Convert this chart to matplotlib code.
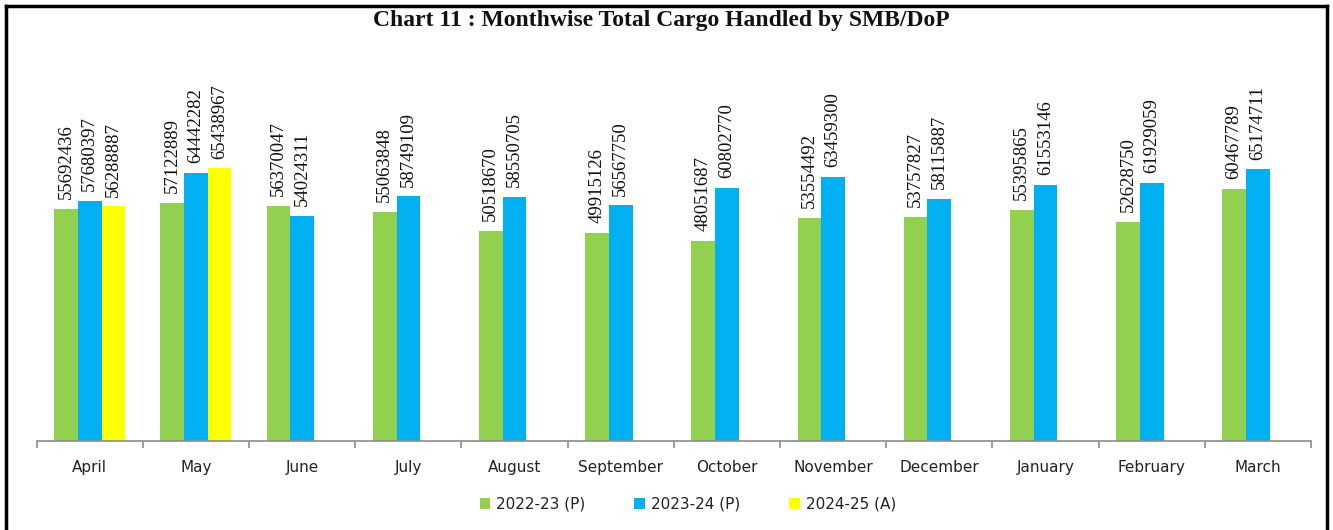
import numpy as np
import matplotlib
matplotlib.use('Agg')
import matplotlib.pyplot as plt
from matplotlib.lines import Line2D

months = ['April', 'May', 'June', 'July', 'August', 'September', 'October',
          'November', 'December', 'January', 'February', 'March']
fy2223 = [55692436, 57122889, 56370047, 55063848, 50518670, 49915126,
          48051687, 53554492, 53757827, 55395865, 52628750, 60467789]
fy2324 = [57680397, 64442282, 54024311, 58749109, 58550705, 56567750,
          60802770, 63459300, 58115887, 61553146, 61929059, 65174711]
fy2425 = [56288887, 65438967]
series_names = ['2022-23 (P)', '2023-24 (P)', '2024-25 (A)']
colors = ['#92D050', '#00B0F0', '#FFFF00']

fig = plt.figure(figsize=(13.33, 5.3), dpi=100)
ax = fig.add_axes([0.0275, 0.168, 0.956, 0.786])

x = np.arange(len(months))
w = 0.223
all_series = [fy2223, fy2324, fy2425]
for k, (vals, col, name) in enumerate(zip(all_series, colors, series_names)):
    xs = x[:len(vals)] + (k - 1) * w
    bars = ax.bar(xs, vals, width=w, color=col, label=name, zorder=2)
    for b, v in zip(bars, vals):
        ax.annotate(str(v), (b.get_x() + b.get_width() / 2, v),
                    xytext=(0, 7), textcoords='offset points',
                    rotation=90, ha='center', va='bottom',
                    fontsize=13.5, family='Liberation Serif', color='#111111')

ax.set_xlim(-0.5, 11.5)
ax.set_ylim(0, 100000000)
ax.set_yticks([])
for s in ['left', 'top', 'right']:
    ax.spines[s].set_visible(False)
ax.spines['bottom'].set_color('#8c8c8c')
ax.spines['bottom'].set_linewidth(1.2)
ax.set_xticks(x)
ax.set_xticklabels(months, fontsize=11, color='#222222', family='DejaVu Sans')
ax.tick_params(axis='x', which='major', length=0, pad=14)
ax.set_xticks(np.arange(-0.5, 12, 1), minor=True)
ax.tick_params(axis='x', which='minor', length=5, color='#8c8c8c', width=1.2)

fig.text(0.496, 0.962, 'Chart 11 : Monthwise Total Cargo Handled by SMB/DoP',
         ha='center', va='center', fontsize=17, fontweight='bold',
         family='Liberation Serif', color='#111111')

fig.legend(loc='center', bbox_to_anchor=(688 / 1333, 1 - 504 / 530), ncol=3,
           frameon=False, fontsize=11, handlelength=0.7, handleheight=0.7,
           handletextpad=0.4, columnspacing=3.2, labelcolor='#222222')

# outer frame (open at the bottom)
fig.add_artist(Line2D([5.5 / 1333, 5.5 / 1333], [0, 1 - 5.5 / 530], color='black', lw=2.5))
fig.add_artist(Line2D([5.5 / 1333, 1326.5 / 1333], [1 - 5.5 / 530, 1 - 5.5 / 530], color='black', lw=2.5))
fig.add_artist(Line2D([1326.5 / 1333, 1326.5 / 1333], [0, 1 - 5.5 / 530], color='black', lw=2.5))

fig.savefig('out.png', dpi=100)
